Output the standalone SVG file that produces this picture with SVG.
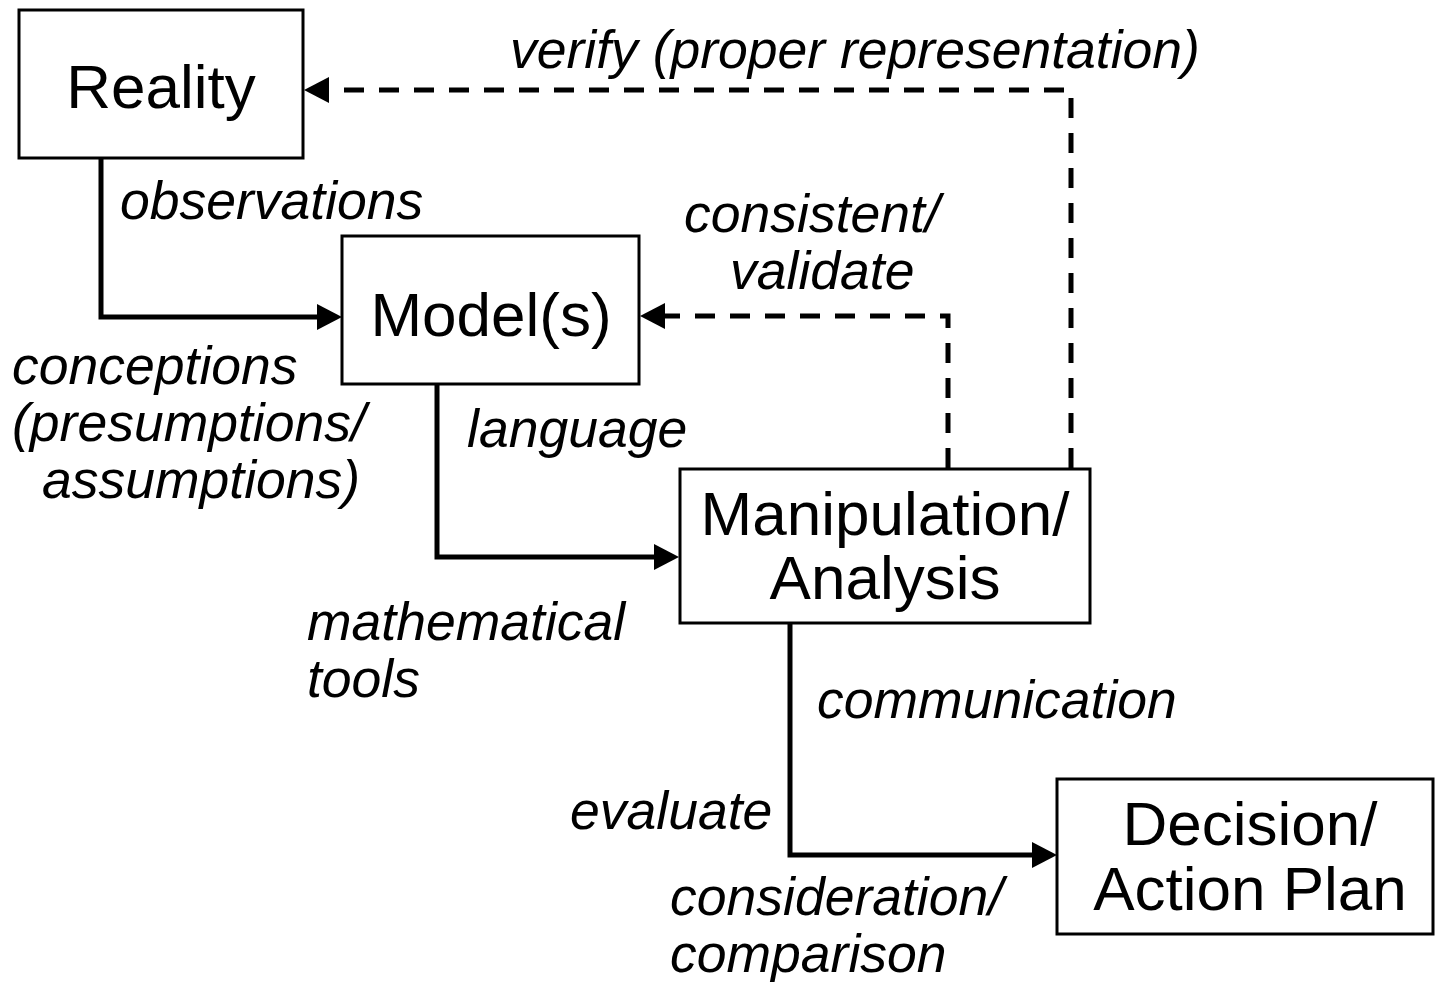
<svg xmlns="http://www.w3.org/2000/svg" width="1435" height="982" viewBox="0 0 1435 982">
<style>
.box{fill:#fff;stroke:#000;stroke-width:3}
.nt{font-family:"Liberation Sans",Arial,sans-serif;font-size:62px;fill:#000;text-anchor:middle}
.lb{font-family:"Liberation Sans",Arial,sans-serif;font-size:53.5px;font-style:italic;fill:#000}
.solid{fill:none;stroke:#000;stroke-width:5}
.dash{fill:none;stroke:#000;stroke-width:5;stroke-dasharray:20 15}
</style>
<defs>
<marker id="ah" markerUnits="userSpaceOnUse" markerWidth="26" markerHeight="26" refX="0" refY="13" orient="auto" overflow="visible">
<path d="M0,0 L25,13 L0,26 Z" fill="#000"/>
</marker>
</defs>
<rect width="1435" height="982" fill="#fff"/>
<g id="connectors">
<path class="solid" d="M101,159 V317 H317" marker-end="url(#ah)"/>
<path class="solid" d="M437,384 V557 H654" marker-end="url(#ah)"/>
<path class="solid" d="M790,624 V855 H1032" marker-end="url(#ah)"/>
<path class="dash" d="M948,468 V316 H665" marker-end="url(#ah)"/>
<path class="dash" d="M1071,468 V90 H329" marker-end="url(#ah)"/>
</g>
<g id="labels">
<text class="lb" x="510" y="68">verify (proper representation)</text>
<text class="lb" x="120" y="219">observations</text>
<text class="lb" x="684" y="232">consistent/</text>
<text class="lb" x="730" y="289">validate</text>
<text class="lb" x="12" y="384">conceptions</text>
<text class="lb" x="12" y="441">(presumptions/</text>
<text class="lb" x="42" y="498">assumptions)</text>
<text class="lb" x="467" y="447">language</text>
<text class="lb" x="307" y="640">mathematical</text>
<text class="lb" x="307" y="697">tools</text>
<text class="lb" x="817" y="718">communication</text>
<text class="lb" x="570" y="829">evaluate</text>
<text class="lb" x="670" y="915">consideration/</text>
<text class="lb" x="670" y="972">comparison</text>
</g>
<g id="reality">
<rect class="box" x="19" y="10" width="284" height="148"/>
<text class="nt" x="161" y="108">Reality</text>
</g>
<g id="models">
<rect class="box" x="342" y="236" width="297" height="148"/>
<text class="nt" x="491" y="336">Model(s)</text>
</g>
<g id="manipulation">
<rect class="box" x="680" y="469" width="410" height="154"/>
<text class="nt" x="885" y="535">Manipulation/</text>
<text class="nt" x="885" y="599">Analysis</text>
</g>
<g id="decision">
<rect class="box" x="1057" y="779" width="376" height="155"/>
<text class="nt" x="1250" y="845">Decision/</text>
<text class="nt" x="1250" y="910">Action Plan</text>
</g>
</svg>
